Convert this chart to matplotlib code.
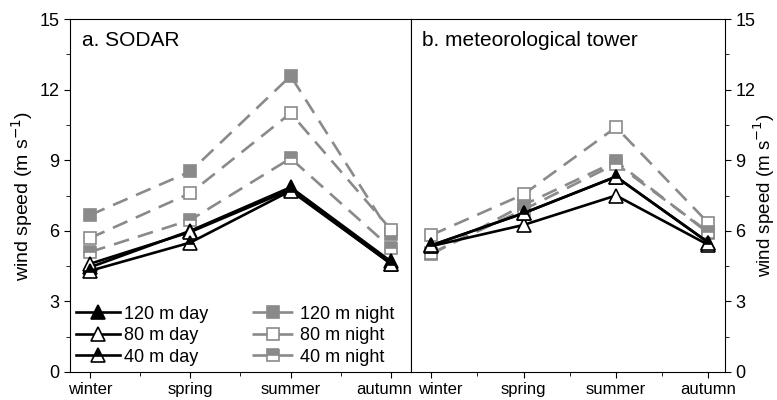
import matplotlib.pyplot as plt
import matplotlib.transforms as mtransforms
from matplotlib.ticker import MultipleLocator

plt.rcParams['font.family'] = ['Liberation Sans', 'DejaVu Sans']

seasons = ['winter', 'spring', 'summer', 'autumn']

# SODAR
sodar_day = {
    '120 m day': [4.45, 6.00, 7.85, 4.70],
    '80 m day':  [4.60, 5.95, 7.75, 4.60],
    '40 m day':  [4.30, 5.50, 7.70, 4.60],
}
sodar_night = {
    '120 m night': [6.67, 8.52, 12.58, 5.85],
    '80 m night':  [5.69, 7.60, 11.00, 6.05],
    '40 m night':  [5.10, 6.46, 9.08, 5.27],
}

# meteorological tower
tower_day = {
    '120 m day': [5.38, 6.75, 8.30, 5.50],
    '80 m day':  [5.35, 6.25, 7.50, 5.40],
    '40 m day':  [5.38, 6.75, 8.30, 5.50],
}
tower_night = {
    '120 m night': [5.00, 7.10, 8.95, 5.90],
    '80 m night':  [5.82, 7.55, 10.40, 6.33],
    '40 m night':  [5.05, 6.90, 8.85, 5.95],
}

GREY = '#8a8a8a'
day_style = {
    '120 m day': dict(marker='^', mfc='black', mec='black'),
    '80 m day':  dict(marker='^', mfc='white', mec='black'),
    '40 m day':  dict(marker='^', mfc='black', mec='black',
                      fillstyle='top', markerfacecoloralt='white'),
}
night_style = {
    '120 m night': dict(marker='s', mfc=GREY, mec=GREY),
    '80 m night':  dict(marker='s', mfc='white', mec=GREY),
    '40 m night':  dict(marker='s', mfc=GREY, mec=GREY,
                        fillstyle='top', markerfacecoloralt='white'),
}


def draw(ax, day, night):
    x = range(len(seasons))
    for name, vals in night.items():
        ax.plot(x, vals, color=GREY, lw=1.9, ls=(0, (6, 3.5)), ms=8.5,
                mew=1.2, label=name, **night_style[name])
    for name, vals in day.items():
        ax.plot(x, vals, color='black', lw=1.9, ms=10.5, mew=1.2,
                label=name, **day_style[name])
    ax.set_ylim(0, 15)
    ax.set_xticks(list(x))
    ax.set_xticklabels(seasons)
    ax.xaxis.set_minor_locator(MultipleLocator(0.5))
    ax.yaxis.set_major_locator(MultipleLocator(3))
    ax.yaxis.set_minor_locator(MultipleLocator(1.5))
    ax.tick_params(which='both', direction='out', labelsize=13)
    ax.tick_params(axis='x', labelsize=12, pad=3)
    ax.tick_params(which='major', length=4)
    ax.tick_params(which='minor', length=3)


fig = plt.figure(figsize=(7.77, 4.0), dpi=100)
ax1 = fig.add_axes([70 / 777, 28 / 400, 341 / 777, 353 / 400])
ax2 = fig.add_axes([411 / 777, 28 / 400, 314 / 777, 353 / 400])

draw(ax1, sodar_day, sodar_night)
draw(ax2, tower_day, tower_night)

ax1.set_xlim(-0.2, 3.2)
ax2.set_xlim(-0.22, 3.18)

# nudge the two labels that meet at the shared spine apart (offsets in px)
def shift(label, dx):
    off = mtransforms.ScaledTranslation(dx / 100, 0, fig.dpi_scale_trans)
    label.set_transform(label.get_transform() + off)

shift(ax1.xaxis.get_major_ticks()[-1].label1, -7)
shift(ax2.xaxis.get_major_ticks()[0].label1, 9)

ax1.set_ylabel('wind speed (m s$^{-1}$)', fontsize=14, labelpad=3)
ax2.yaxis.tick_right()
ax2.yaxis.set_label_position('right')
ax2.set_ylabel('wind speed (m s$^{-1}$)', fontsize=13.5)
ax2.yaxis.set_label_coords(1.085, 0.5)
ax2.tick_params(axis='y', which='both', left=False)

ax1.text(0.035, 0.965, 'a. SODAR', transform=ax1.transAxes,
         fontsize=15, va='top', ha='left')
ax2.text(0.035, 0.965, 'b. meteorological tower', transform=ax2.transAxes,
         fontsize=15, va='top', ha='left')

# legend: day series in the left column, night series in the right
h, l = ax1.get_legend_handles_labels()
order = [3, 4, 5, 0, 1, 2]
ax1.legend([h[i] for i in order], [l[i] for i in order], ncol=2,
           loc='lower left', frameon=False, fontsize=13,
           handlelength=2.4, handletextpad=0.25, columnspacing=2.4,
           labelspacing=0.25, borderaxespad=0.05, borderpad=0.3)

fig.savefig('out.png', dpi=100)
